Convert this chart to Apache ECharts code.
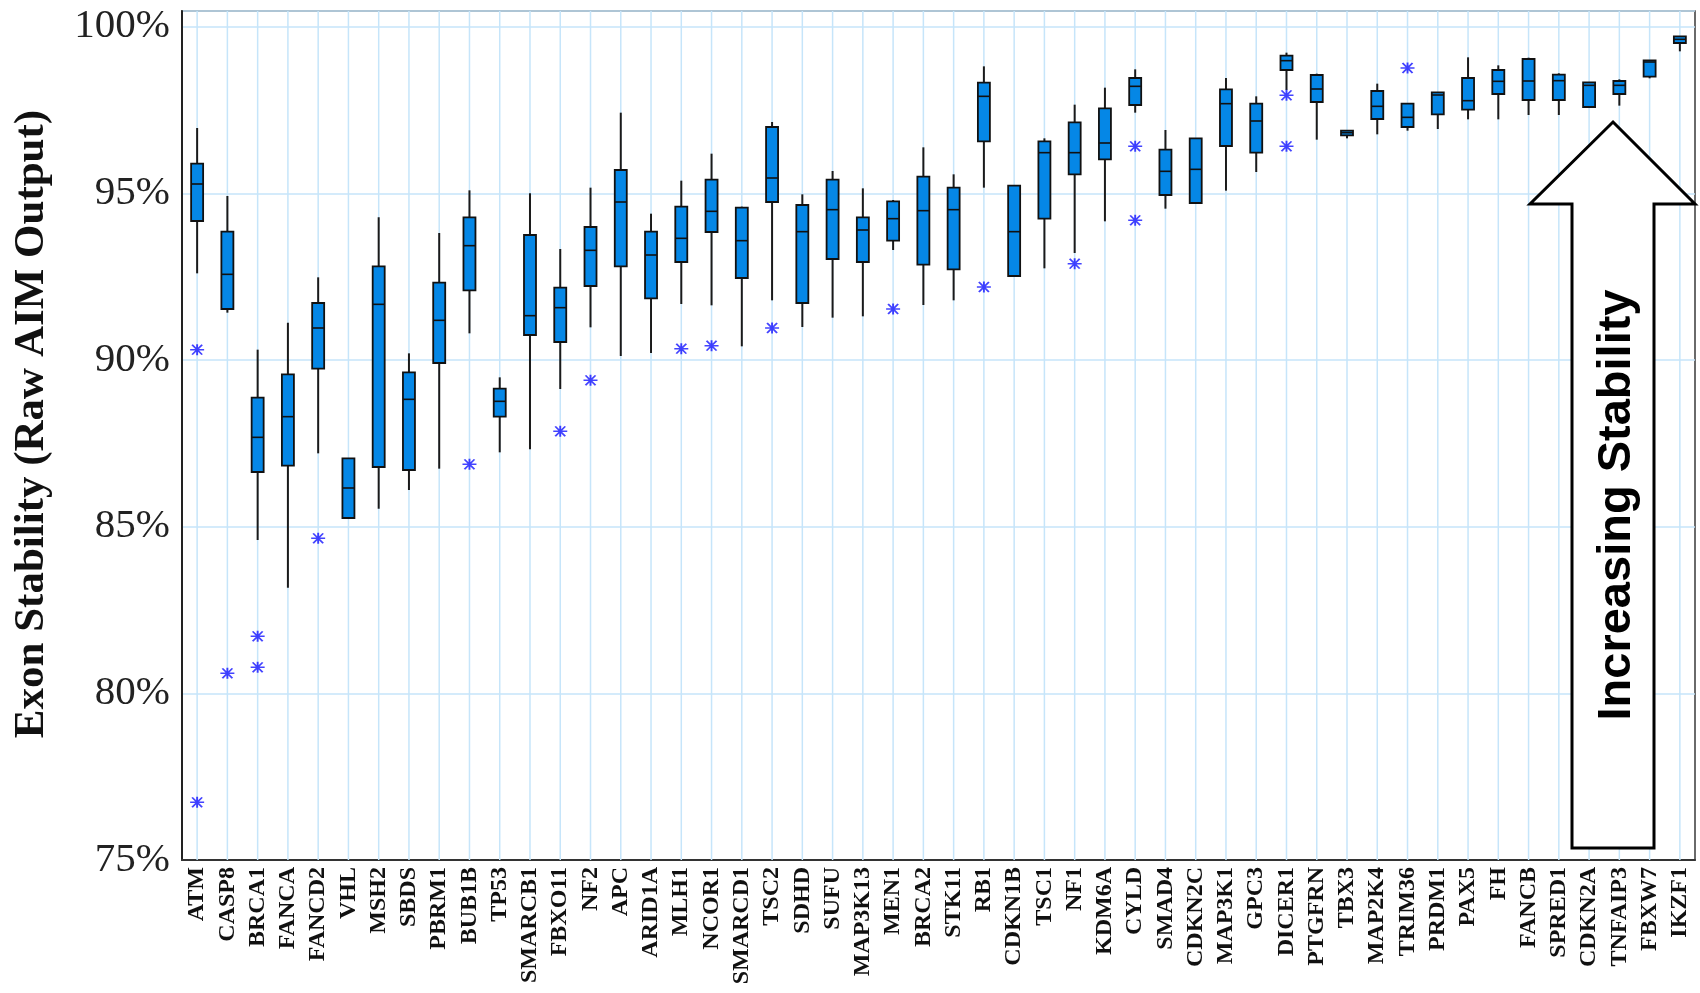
<!DOCTYPE html>
<html>
<head>
<meta charset="utf-8">
<script src="https://cdn.jsdelivr.net/npm/echarts/dist/echarts.min.js"></script>
<style>
  html, body { margin: 0; padding: 0; background: #ffffff; }
  #chart { width: 1700px; height: 993px; }
</style>
</head>
<body>
<div id="chart"></div>
<script>
const categories = ['ATM','CASP8','BRCA1','FANCA','FANCD2','VHL','MSH2','SBDS','PBRM1','BUB1B',
  'TP53','SMARCB1','FBXO11','NF2','APC','ARID1A','MLH1','NCOR1','SMARCD1','TSC2',
  'SDHD','SUFU','MAP3K13','MEN1','BRCA2','STK11','RB1','CDKN1B','TSC1','NF1',
  'KDM6A','CYLD','SMAD4','CDKN2C','MAP3K1','GPC3','DICER1','PTGFRN','TBX3','MAP2K4',
  'TRIM36','PRDM1','PAX5','FH','FANCB','SPRED1','CDKN2A','TNFAIP3','FBXW7','IKZF1'];

const whiskerLow = [92.6, 91.42, 84.6, 83.17, 87.2, 85.26, 85.54, 86.1, 86.74, 90.8,
  87.23, 87.32, 89.13, 90.98, 90.12, 90.21, 91.68, 91.64, 90.41, 91.79,
  90.99, 91.27, 91.31, 93.3, 91.65, 91.79, 95.17, 92.52, 92.75, 93.21,
  94.16, 97.42, 94.54, 94.71, 95.08, 95.64, 98.1, 96.61, 96.65, 96.77,
  96.88, 96.93, 97.22, 97.22, 97.35, 97.35, 97.59, 97.63, 98.45, 99.26];
const q1 = [94.17, 91.53, 86.64, 86.83, 89.74, 85.26, 86.79, 86.7, 89.91, 92.09,
  88.3, 90.75, 90.54, 92.22, 92.81, 91.85, 92.94, 93.84, 92.46, 94.74,
  91.71, 93.03, 92.94, 93.58, 92.86, 92.72, 96.56, 92.52, 94.24, 95.57,
  96.02, 97.65, 94.95, 94.71, 96.42, 96.22, 98.7, 97.74, 96.74, 97.23,
  96.99, 97.37, 97.51, 97.98, 97.8, 97.8, 97.59, 97.98, 98.5, 99.51];
const median = [95.28, 92.57, 87.68, 88.3, 90.96, 86.16, 91.67, 88.82, 91.19, 93.43,
  88.76, 91.33, 91.57, 93.29, 94.74, 93.15, 93.65, 94.46, 93.58, 95.46,
  93.85, 94.51, 93.9, 94.24, 94.48, 94.51, 97.91, 93.85, 96.22, 96.22,
  96.51, 98.21, 95.66, 95.72, 97.69, 97.17, 98.98, 98.13, 96.82, 97.61,
  97.28, 97.95, 97.78, 98.36, 98.37, 98.38, 98.24, 98.24, 98.94, 99.62];
const q3 = [95.89, 93.85, 88.87, 89.57, 91.71, 87.05, 92.81, 89.63, 92.32, 94.28,
  89.14, 93.75, 92.17, 93.99, 95.7, 93.85, 94.6, 95.41, 94.57, 96.99,
  94.65, 95.41, 94.28, 94.76, 95.5, 95.17, 98.32, 95.23, 96.56, 97.13,
  97.55, 98.46, 96.31, 96.65, 98.12, 97.69, 99.13, 98.55, 96.88, 98.07,
  97.69, 98.03, 98.46, 98.7, 99.03, 98.56, 98.33, 98.37, 98.99, 99.71];
const whiskerHigh = [96.96, 94.92, 90.31, 91.12, 92.48, 87.05, 94.28, 90.2, 93.81, 95.09,
  89.48, 95.0, 93.33, 95.17, 97.42, 94.39, 95.38, 96.19, 94.6, 97.14,
  94.97, 95.67, 95.15, 94.8, 96.38, 95.57, 98.81, 95.23, 96.65, 97.66,
  98.17, 98.72, 96.9, 96.65, 98.46, 97.91, 99.22, 98.59, 96.88, 98.29,
  97.69, 98.03, 99.08, 98.84, 99.07, 98.6, 98.33, 98.42, 98.99, 99.71];

const outlierGene = ['ATM','ATM','CASP8','BRCA1','BRCA1','FANCD2','BUB1B','FBXO11','NF2','MLH1',
  'NCOR1','TSC2','MEN1','RB1','NF1','CYLD','CYLD','DICER1','DICER1','TRIM36'];
const outlierValue = [90.31, 76.73, 80.6, 81.71, 80.78, 84.65, 86.87, 87.86, 89.39, 90.34,
  90.43, 90.96, 91.53, 92.19, 92.89, 96.41, 94.19, 97.94, 96.41, 98.76];

const yTicks = [75, 80, 85, 90, 95, 100];

const Y_MIN = 75, Y_MAX = 100.47;
const GRID_COLOR = '#c6e5fa';
const BOX_FILL = '#0587e6';

const boxData = categories.map((c, i) => [i, whiskerLow[i], q1[i], median[i], q3[i], whiskerHigh[i]]);
const outlierData = outlierGene.map((g, k) => [categories.indexOf(g), outlierValue[k]]);

const chart = echarts.init(document.getElementById('chart'), null, { renderer: 'canvas' });

const option = {
  backgroundColor: '#ffffff',
  animation: false,
  grid: {
    left: 182, right: 5, top: 11, bottom: 133,
    show: true, borderColor: '#3a3a3a', borderWidth: 1.5, backgroundColor: 'transparent'
  },
  xAxis: {
    type: 'category',
    data: categories,
    boundaryGap: true,
    axisLine: { show: true, lineStyle: { color: '#333', width: 2 } },
    axisTick: { show: false },
    splitLine: { show: false },
    axisLabel: {
      interval: 0, rotate: 90, margin: 7,
      fontFamily: 'Liberation Serif', fontWeight: 'bold', fontSize: 24, color: '#111'
    }
  },
  yAxis: {
    type: 'value',
    min: Y_MIN, max: Y_MAX, interval: 5,
    axisLine: { show: true, lineStyle: { color: '#222', width: 2 } },
    axisTick: { show: false },
    axisLabel: {
      margin: 12, showMaxLabel: false,
      fontFamily: 'Liberation Serif', fontSize: 41, color: '#222',
      formatter: v => (yTicks.indexOf(v) >= 0 ? v + '%' : '')
    },
    splitLine: { show: true, lineStyle: { color: GRID_COLOR, width: 1.5 } }
  },
  series: [
    {
      type: 'custom',
      name: 'box',
      z: 2,
      encode: { x: 0, y: [1, 2, 3, 4, 5] },
      data: boxData,
      renderItem: function (params, api) {
        const x = api.value(0);
        const pLo = api.coord([x, api.value(1)]);
        const pQ1 = api.coord([x, api.value(2)]);
        const pMed = api.coord([x, api.value(3)]);
        const pQ3 = api.coord([x, api.value(4)]);
        const pHi = api.coord([x, api.value(5)]);
        const pTop = api.coord([x, Y_MAX]);
        const pBot = api.coord([x, Y_MIN]);
        const cx = pLo[0];
        const half = 6;
        return {
          type: 'group',
          children: [
            { type: 'line', shape: { x1: cx, y1: pBot[1], x2: cx, y2: pTop[1] },
              style: { stroke: GRID_COLOR, lineWidth: 1.5 } },
            { type: 'line', shape: { x1: cx, y1: pLo[1], x2: cx, y2: pHi[1] },
              style: { stroke: '#1a1a1a', lineWidth: 2 } },
            { type: 'rect', shape: { x: cx - half, y: pQ3[1], width: half * 2, height: Math.max(pQ1[1] - pQ3[1], 1) },
              style: { fill: BOX_FILL, stroke: '#111', lineWidth: 1.8 } },
            { type: 'line', shape: { x1: cx - half, y1: pMed[1], x2: cx + half, y2: pMed[1] },
              style: { stroke: '#111', lineWidth: 1.6 } }
          ]
        };
      }
    },
    {
      type: 'scatter',
      name: 'outliers',
      z: 3,
      data: outlierData,
      symbol: 'path://M0,5L14,5M7,0L7,10M2,0.5L12,9.5M2,9.5L12,0.5',
      symbolSize: [14, 11],
      itemStyle: { color: 'rgba(0,0,0,0)', borderColor: '#1414ff', borderWidth: 1.7 }
    }
  ],
  graphic: [
    {
      type: 'text',
      z: 11,
      x: 32, y: 424,
      rotation: Math.PI / 2,
      style: {
        text: 'Exon Stability (Raw AIM Output)',
        fontFamily: 'Liberation Serif', fontWeight: 'bold', fontSize: 43,
        fill: '#111111', align: 'center', verticalAlign: 'middle'
      }
    },
    {
      type: 'polygon',
      z: 10,
      shape: {
        points: [[1613, 122], [1695, 204], [1654, 204], [1654, 848], [1572, 848], [1572, 204], [1530, 204]]
      },
      style: { fill: '#ffffff', stroke: '#000000', lineWidth: 3 }
    },
    {
      type: 'text',
      z: 11,
      x: 1617, y: 505,
      rotation: Math.PI / 2,
      style: {
        text: 'Increasing Stability',
        fontFamily: 'Liberation Sans', fontWeight: 'bold', fontSize: 47,
        fill: '#000000', align: 'center', verticalAlign: 'middle'
      }
    }
  ]
};

chart.setOption(option);
</script>
</body>
</html>
